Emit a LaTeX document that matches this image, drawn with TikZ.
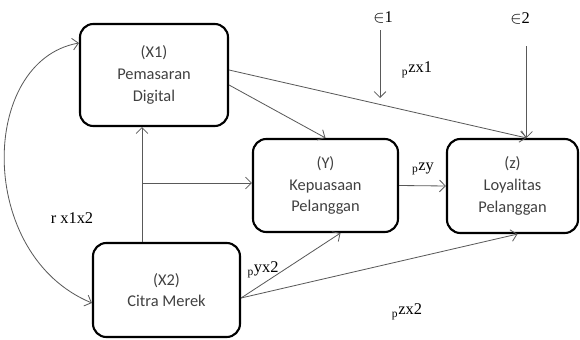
\documentclass[tikz,border=0pt]{standalone}
\usepackage{fontspec}
\setmainfont{Liberation Serif}
\newfontfamily\carlito{Carlito}
\usepackage{tikz}
\usetikzlibrary{arrows.meta, positioning}

\begin{document}
\begin{tikzpicture}[x=0.03cm, y=-0.03cm,
    box/.style={rectangle, draw, line width=1.8pt, rounded corners=0.4cm, align=center, text=black!75, font=\carlito\fontsize{14}{18.5}\selectfont},
    arrow/.style={-{Straight Barb[length=5pt, width=10pt]}, draw=black!65, line width=0.7pt},
    lbl/.style={font=\fontsize{14}{16}\selectfont}
]
\useasboundingbox (0,0) rectangle (580,340);
\node[box, minimum width=4.44cm, minimum height=3.06cm] (x1) at (154,75) {(X1)\\Pemasaran\\Digital};
\node[box, minimum width=4.35cm, minimum height=2.79cm] (y) at (325.5,185.5) {(Y)\\Kepuasaan\\Pelanggan};
\node[box, minimum width=3.93cm, minimum height=2.82cm] (z) at (512.5,186) {(z)\\Loyalitas\\Pelanggan};
\node[box, minimum width=4.41cm, minimum height=2.82cm] (x2) at (166.5,290) {(X2)\\Citra Merek};
\coordinate (zin) at ([xshift=0.42cm]z.north);
\coordinate (mid) at (142,183);
\coordinate (e1end) at (380,98);
\node[lbl] (e1) at (383,17) {$\in$1};
\node[lbl] (e2) at (520,18) {$\in$2};
\draw[arrow, shorten <=3pt] (e1.south -| e1end) -- (e1end);
\draw[arrow, shorten <=0.55cm] (e2.south -| zin) -- (zin);
\draw[arrow] ([yshift=0.15cm]x1.east) -- (zin);
\draw[arrow] ([yshift=-0.3cm]x1.east) -- (y.north);
\draw[arrow] (x2.north -| mid) -- (x1.south -| mid);
\draw[arrow] (mid) -- (mid -| y.west);
\draw[arrow] (y.east) -- (z.west);
\draw[arrow] ([yshift=-0.24cm]x2.east) -- ([xshift=0.45cm]y.south);
\draw[arrow] ([yshift=-0.24cm]x2.east) -- ([xshift=0.15cm]z.south);
\draw[arrow, {Straight Barb[length=5pt, width=10pt]}-{Straight Barb[length=5pt, width=10pt]}]
    ([yshift=0.96cm]x1.west) .. controls +(-100,18) and +(-116,-48) .. ([yshift=-0.39cm]x2.west);
\node[lbl] (rx) at (72,218) {r x1x2};
\node[lbl] (pzx1) at (417,70) {\textsubscript{p}zx1};
\node[lbl] (pzy) at (423,169) {\textsubscript{p}zy};
\node[lbl] (pyx2) at (263,270) {\textsubscript{p}yx2};
\node[lbl] (pzx2) at (407,312) {\textsubscript{p}zx2};
\end{tikzpicture}
\end{document}
